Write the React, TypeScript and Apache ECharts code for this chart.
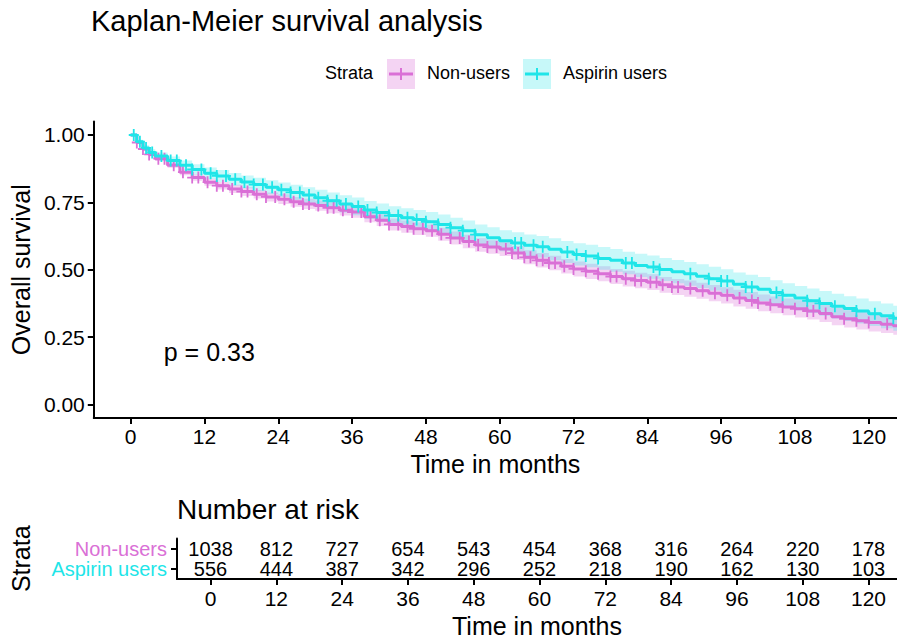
import React, { useEffect, useRef } from 'react';
import * as echarts from 'echarts';

const MAG = '#DA70D6';
const CYA = '#1FE5E8';
const FONT = '"Liberation Sans", Arial, Helvetica, sans-serif';

const seriesNames = ['Non-users', 'Aspirin users'];
const timeTicks = [0, 12, 24, 36, 48, 60, 72, 84, 96, 108, 120];
const survTicks = [0, 0.25, 0.5, 0.75, 1];

// Kaplan-Meier step points (months)
const times = [0, 1, 2, 3, 4, 6, 8, 10, 12, 14, 16, 18, 20, 22, 24, 26, 28, 30, 32, 34, 36, 38, 40, 42, 44, 46, 48, 50, 52, 54, 56, 58, 60, 62, 64, 66, 68, 70, 72, 74, 76, 78, 80, 82, 84, 86, 88, 90, 92, 94, 96, 98, 100, 102, 104, 106, 108, 110, 112, 114, 116, 118, 120, 122, 124];
const endTime = 124.6;

const nonUsersSurv = [1.0, 0.972, 0.948, 0.928, 0.912, 0.888, 0.862, 0.842, 0.825, 0.812, 0.8, 0.79, 0.78, 0.77, 0.762, 0.752, 0.744, 0.738, 0.73, 0.721, 0.714, 0.697, 0.684, 0.668, 0.66, 0.652, 0.645, 0.632, 0.618, 0.605, 0.592, 0.584, 0.577, 0.562, 0.546, 0.535, 0.525, 0.513, 0.503, 0.494, 0.485, 0.475, 0.467, 0.46, 0.454, 0.444, 0.436, 0.43, 0.422, 0.413, 0.405, 0.395, 0.386, 0.377, 0.37, 0.362, 0.355, 0.347, 0.338, 0.326, 0.318, 0.311, 0.304, 0.298, 0.292];
const aspirinSurv = [1.0, 0.975, 0.952, 0.935, 0.922, 0.905, 0.888, 0.872, 0.858, 0.848, 0.836, 0.826, 0.816, 0.806, 0.797, 0.787, 0.777, 0.767, 0.756, 0.744, 0.735, 0.722, 0.712, 0.701, 0.693, 0.686, 0.678, 0.668, 0.656, 0.645, 0.63, 0.619, 0.608, 0.599, 0.591, 0.585, 0.576, 0.566, 0.557, 0.551, 0.542, 0.535, 0.525, 0.516, 0.51, 0.501, 0.493, 0.485, 0.476, 0.467, 0.458, 0.446, 0.436, 0.428, 0.416, 0.405, 0.395, 0.385, 0.375, 0.365, 0.356, 0.347, 0.337, 0.329, 0.32];

// half-width of the 95% confidence band
const nonUsersCI = [0, 0.005, 0.007, 0.008, 0.009, 0.01, 0.011, 0.012, 0.013, 0.014, 0.015, 0.016, 0.016, 0.017, 0.018, 0.018, 0.019, 0.019, 0.02, 0.02, 0.021, 0.021, 0.022, 0.022, 0.023, 0.023, 0.023, 0.024, 0.024, 0.025, 0.025, 0.025, 0.026, 0.026, 0.026, 0.027, 0.027, 0.027, 0.028, 0.028, 0.028, 0.028, 0.029, 0.029, 0.029, 0.029, 0.03, 0.03, 0.03, 0.03, 0.03, 0.031, 0.031, 0.031, 0.031, 0.031, 0.032, 0.032, 0.032, 0.032, 0.032, 0.033, 0.033, 0.033, 0.033];
const aspirinCI = [0, 0.007, 0.01, 0.012, 0.013, 0.015, 0.017, 0.019, 0.021, 0.022, 0.023, 0.024, 0.025, 0.026, 0.027, 0.028, 0.029, 0.03, 0.031, 0.032, 0.033, 0.033, 0.034, 0.035, 0.035, 0.036, 0.036, 0.037, 0.037, 0.038, 0.038, 0.039, 0.039, 0.04, 0.04, 0.04, 0.041, 0.041, 0.041, 0.042, 0.042, 0.042, 0.042, 0.043, 0.043, 0.043, 0.043, 0.044, 0.044, 0.044, 0.044, 0.044, 0.045, 0.045, 0.045, 0.045, 0.045, 0.045, 0.046, 0.046, 0.046, 0.046, 0.046, 0.046, 0.046];

// censoring times (months)
const nonUsersCensor = [1, 2, 3, 4.5, 5.5, 7, 8.5, 10, 11, 12.5, 14, 15, 16.5, 18, 19, 20.5, 22, 23.5, 25, 26.5, 28, 29, 30.5, 32, 33, 34.5, 36, 37.5, 39, 40.5, 42, 43.5, 45, 46, 47.5, 49, 50.5, 52, 53.5, 55, 56.5, 58, 59.5, 61, 62, 63, 64, 65, 66, 67, 68, 69, 70.5, 72, 74, 76, 78, 79, 80.5, 82, 83, 84.5, 85.5, 86.5, 88, 89, 91, 93, 95, 97, 99, 101, 102, 104, 106, 108, 110, 111, 113, 116, 118, 120, 123];
const aspirinCensor = [0.5, 1.5, 2.5, 3.5, 5, 6.5, 7.5, 9, 10, 11.5, 13, 14, 15.5, 17, 18.5, 20, 21.5, 23, 24.5, 26, 27.5, 29, 30.5, 32, 33.5, 35, 37, 38.5, 40, 42, 43.5, 45, 46.5, 48, 50, 52, 54, 56, 62.5, 63.5, 65.5, 67, 71, 72.5, 74, 76, 80.5, 81.5, 85, 86, 91, 94, 96, 97, 100, 101, 105, 106, 110, 112, 114.5, 118, 121, 124];

// number at risk
const riskTimes = [0, 12, 24, 36, 48, 60, 72, 84, 96, 108, 120];
const nonUsersRisk = [1038, 812, 727, 654, 543, 454, 368, 316, 264, 220, 178];
const aspirinRisk = [556, 444, 387, 342, 296, 252, 218, 190, 162, 130, 103];

const pValueText = 'p = 0.33';
const pValuePos = [5.3, 0.195];

const PLUS = 'path://M4.1,0H5.9V12H4.1Z M0,5.1H10V6.9H0Z';

function stepAt(ts: number[], vs: number[], c: number) {
  let v = vs[0];
  for (let i = 0; i < ts.length; i++) if (ts[i] <= c) v = vs[i];
  return v;
}

function withEnd(pairs: number[][]) {
  const last = pairs[pairs.length - 1];
  return [...pairs, [endTime, last[1]]];
}

// confidence band drawn as one step polygon through the axes' scales
function bandSeries(name: string, surv: number[], ci: number[], color: string, opacity: number) {
  const rows = times.map((t, i) => [t, surv[i] - ci[i], surv[i] + ci[i]]);
  rows.push([endTime, rows[rows.length - 1][1], rows[rows.length - 1][2]]);
  return {
    type: 'custom', name: name + ' 95% CI', silent: true, z: 1,
    data: rows,
    encode: { x: 0, y: [1, 2] },
    renderItem: (params: any, api: any) => {
      if (params.dataIndex !== 0) return null;
      const upper: number[][] = [];
      const lower: number[][] = [];
      for (let i = 0; i < rows.length; i++) {
        const [t, lo, hi] = rows[i];
        if (i > 0) {
          upper.push(api.coord([t, rows[i - 1][2]]));
          lower.push(api.coord([t, rows[i - 1][1]]));
        }
        upper.push(api.coord([t, hi]));
        lower.push(api.coord([t, lo]));
      }
      const points = [...upper, ...lower.reverse()];
      return {
        type: 'polygon',
        shape: { points },
        style: { fill: color, opacity },
      };
    },
  };
}

export default function App() {
  const ref = useRef<HTMLDivElement>(null);
  useEffect(() => {
    if (!ref.current) return;
    const chart = echarts.init(ref.current, null, { renderer: 'svg' });

    const axisLine = { show: true, onZero: false, lineStyle: { color: '#000', width: 2 } };
    const axisTick = { show: true, length: 6, lineStyle: { color: '#000', width: 2 } };

    const option: any = {
      animation: false,
      backgroundColor: '#fff',
      textStyle: { fontFamily: FONT },
      title: [
        {
          text: 'Kaplan-Meier survival analysis', left: 91, top: 6, padding: 0,
          textStyle: { fontSize: 29, fontWeight: 'normal', color: '#000', fontFamily: FONT },
        },
        {
          text: 'Number at risk', left: 177, top: 495, padding: 0,
          textStyle: { fontSize: 28, fontWeight: 'normal', color: '#000', fontFamily: FONT },
        },
      ],
      grid: [
        { left: 93.5, top: 121.5, width: 803.5, height: 296.5 },
        { left: 175.7, top: 538.5, width: 721.3, height: 41.5 },
      ],
      xAxis: [
        {
          type: 'value', gridIndex: 0, min: -6.0, max: 124.6,
          axisLine, axisTick: { ...axisTick, customValues: timeTicks },
          axisLabel: { customValues: timeTicks, fontSize: 21, color: '#000', margin: 8, fontFamily: FONT },
          splitLine: { show: false },
          name: 'Time in months', nameLocation: 'middle', nameGap: 33,
          nameTextStyle: { fontSize: 25, color: '#000', fontFamily: FONT },
        },
        {
          type: 'value', gridIndex: 1, min: -6.12, max: 125.2,
          axisLine, axisTick: { ...axisTick, customValues: riskTimes },
          axisLabel: { customValues: riskTimes, fontSize: 21, color: '#000', margin: 9, fontFamily: FONT },
          splitLine: { show: false },
          name: 'Time in months', nameLocation: 'middle', nameGap: 34,
          nameTextStyle: { fontSize: 25, color: '#000', fontFamily: FONT },
        },
      ],
      yAxis: [
        {
          type: 'value', gridIndex: 0, min: -0.05, max: 1.05,
          axisLine, axisTick: { ...axisTick, customValues: survTicks },
          axisLabel: {
            customValues: survTicks, fontSize: 21, color: '#000', margin: 9, fontFamily: FONT,
            formatter: (v: number) => v.toFixed(2),
          },
          splitLine: { show: false },
          name: 'Overall survival', nameLocation: 'middle', nameGap: 58,
          nameTextStyle: { fontSize: 25, color: '#000', fontFamily: FONT },
        },
        {
          type: 'category', gridIndex: 1, data: ['Aspirin users', 'Non-users'],
          axisLine: { show: true, onZero: false, lineStyle: { color: '#000', width: 2 } },
          axisTick: { ...axisTick, alignWithLabel: true, interval: 0 },
          axisLabel: {
            interval: 0, fontSize: 20, lineHeight: 18, margin: 10, fontFamily: FONT,
            formatter: (v: string) => (v === 'Non-users' ? '{m|' + v + '}' : '{c|' + v + '}'),
            rich: {
              m: { color: MAG, fontSize: 20, lineHeight: 18, fontFamily: FONT },
              c: { color: CYA, fontSize: 20, lineHeight: 18, fontFamily: FONT },
            },
          },
          splitLine: { show: false },
          name: 'Strata', nameLocation: 'middle', nameGap: 144,
          nameTextStyle: { fontSize: 25, color: '#000', fontFamily: FONT },
        },
      ],
      series: [
        bandSeries(seriesNames[0], nonUsersSurv, nonUsersCI, MAG, 0.3),
        bandSeries(seriesNames[1], aspirinSurv, aspirinCI, CYA, 0.25),
        {
          type: 'line', name: seriesNames[0], step: 'end', symbol: 'none', z: 3,
          data: withEnd(times.map((t, i) => [t, nonUsersSurv[i]])),
          lineStyle: { color: MAG, width: 3 },
        },
        {
          type: 'line', name: seriesNames[1], step: 'end', symbol: 'none', z: 4,
          data: withEnd(times.map((t, i) => [t, aspirinSurv[i]])),
          lineStyle: { color: CYA, width: 3 },
        },
        {
          type: 'scatter', name: seriesNames[0] + ' censored', symbol: PLUS, symbolSize: [10, 12], z: 3,
          data: nonUsersCensor.map((c) => [c, stepAt(times, nonUsersSurv, c)]),
          itemStyle: { color: MAG, opacity: 1 }, silent: true,
        },
        {
          type: 'scatter', name: seriesNames[1] + ' censored', symbol: PLUS, symbolSize: [10, 12], z: 4,
          data: aspirinCensor.map((c) => [c, stepAt(times, aspirinSurv, c)]),
          itemStyle: { color: CYA, opacity: 1 }, silent: true,
        },
        {
          type: 'scatter', name: 'p-value', symbolSize: 1, data: [pValuePos],
          itemStyle: { color: 'rgba(0,0,0,0)', opacity: 1 }, silent: true,
          label: {
            show: true, position: 'right', distance: 0, formatter: pValueText,
            fontSize: 25, color: '#000', fontFamily: FONT,
          },
        },
        {
          type: 'scatter', name: 'risk', xAxisIndex: 1, yAxisIndex: 1, symbolSize: 1,
          itemStyle: { color: 'rgba(0,0,0,0)', opacity: 1 }, silent: true,
          data: [
            ...riskTimes.map((t, i) => [t, 1, nonUsersRisk[i]]),
            ...riskTimes.map((t, i) => [t, 0, aspirinRisk[i]]),
          ],
          label: {
            show: true, position: 'inside', fontSize: 20, lineHeight: 18, color: '#000', fontFamily: FONT,
            formatter: (p: any) => String(p.value[2]),
          },
        },
      ],
      graphic: [
        { type: 'text', left: 325, top: 64, style: { text: 'Strata', fontSize: 18, fill: '#000', fontFamily: FONT } },
        { type: 'rect', shape: { x: 387, y: 59, width: 28, height: 30 }, style: { fill: MAG, opacity: 0.3 } },
        { type: 'line', shape: { x1: 389, y1: 74, x2: 413, y2: 74 }, style: { stroke: MAG, lineWidth: 3 } },
        { type: 'line', shape: { x1: 401, y1: 68, x2: 401, y2: 80 }, style: { stroke: MAG, lineWidth: 2 } },
        { type: 'text', left: 427, top: 64, style: { text: 'Non-users', fontSize: 18, fill: '#000', fontFamily: FONT } },
        { type: 'rect', shape: { x: 523, y: 59, width: 28, height: 30 }, style: { fill: CYA, opacity: 0.25 } },
        { type: 'line', shape: { x1: 525, y1: 74, x2: 549, y2: 74 }, style: { stroke: CYA, lineWidth: 3 } },
        { type: 'line', shape: { x1: 537, y1: 68, x2: 537, y2: 80 }, style: { stroke: CYA, lineWidth: 2 } },
        { type: 'text', left: 563, top: 64, style: { text: 'Aspirin users', fontSize: 18, fill: '#000', fontFamily: FONT } },
      ],
    };

    chart.setOption(option);
    return () => chart.dispose();
  }, []);
  return (
    <div
      ref={ref}
      style={{ position: 'fixed', left: 0, top: 0, width: 897, height: 639, background: '#fff' }}
    />
  );
}
